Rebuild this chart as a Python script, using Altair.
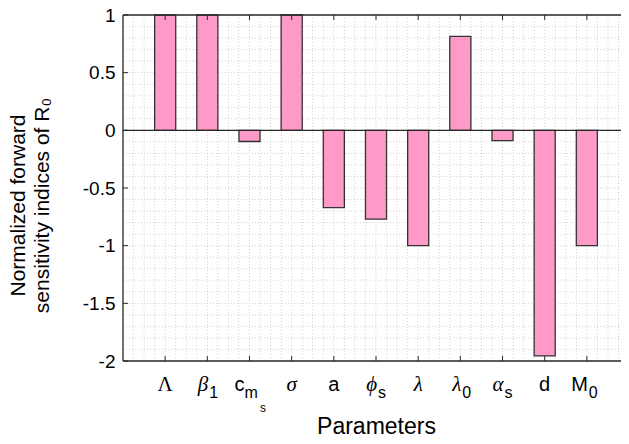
import altair as alt
import pandas as pd
import numpy as np
import unicodedata

# ---- data ----
label_main = ["Λ", "β", "c", "σ", "a", "ϕ", "λ", "λ", "α", "d", "M"]
label_sub = ["", "1", "m", "", "", "s", "", "0", "s", "", "0"]
label_subsub = ["", "", "s", "", "", "", "", "", "", "", ""]
sensitivity = [1.0, 1.0, -0.097, 1.0, -0.67, -0.77, -1.0, 0.814, -0.09, -1.956, -1.0]
y_tick_values = [-2, -1.5, -1, -0.5, 0, 0.5, 1]
x_tick_positions = list(range(1, len(label_main) + 1))

W, H = 498, 346
X_MAX = 11.81          # right part of the axes box falls outside the picture
FRAME = "#262626"
SANS = "Liberation Sans"
SERIF = "Liberation Serif"


def style_of(ch):
    name = unicodedata.name(ch, "")
    if "GREEK" in name:
        return "greek_upper" if "CAPITAL" in name else "greek_lower"
    return "latin"


df = pd.DataFrame({
    "pos": x_tick_positions,
    "main": label_main,
    "sub": label_sub,
    "subsub": label_subsub,
    "value": sensitivity,
})
df["style"] = [style_of(c) for c in label_main]
df["has_sub"] = [s != "" for s in label_sub]
df["has_subsub"] = [s != "" for s in label_subsub]

xscale = alt.Scale(domain=[0, X_MAX], nice=False, zero=False)
yscale = alt.Scale(domain=[-2, 1], nice=False, zero=False)

base = alt.Chart(df)

bars = base.transform_calculate(
    left="datum.pos - 0.25", right="datum.pos + 0.25"
).mark_bar(fill="#FF99C8", stroke="#333333", strokeWidth=1.3).encode(
    x=alt.X("left:Q", scale=xscale,
            axis=alt.Axis(labels=False, ticks=False, domain=False, grid=False,
                          title="Parameters", titleFont=SANS, titleFontSize=23,
                          titleFontWeight="normal", titleColor="#000",
                          titleBaseline="alphabetic", titleY=72,
                          titleX=(6 * W / X_MAX), titleAnchor="start", titleAlign="center")),
    x2="right:Q",
    y=alt.Y("value:Q", scale=yscale,
            axis=alt.Axis(values=y_tick_values, labelExpr="'' + datum.value",
                          ticks=False, domain=False, grid=False,
                          labelFont=SANS, labelFontSize=19, labelColor="#000",
                          labelPadding=8,
                          title=["Normalized forward", "sensitivity indices of R₀"],
                          titleFont=SANS, titleFontSize=21, titleFontWeight="normal",
                          titleColor="#000", titleLineHeight=24,
                          titleX=-95, titleY=190, titleAlign="center",
                          titleAngle=270, titleBaseline="bottom")),
    y2=alt.datum(0),
)

# minor dotted grid
xg = pd.DataFrame({"g": np.arange(0.25, X_MAX, 0.25)})
yg = pd.DataFrame({"g": np.round(np.arange(-1.9, 1.0, 0.1), 2)})
grid_x = alt.Chart(xg).mark_rule(color="#d2d2d2", strokeDash=[1, 2], strokeWidth=1).encode(
    x=alt.X("g:Q", scale=xscale, axis=None), y=alt.value(0), y2=alt.value(H))
grid_y = alt.Chart(yg).mark_rule(color="#d2d2d2", strokeDash=[1, 2], strokeWidth=1).encode(
    y=alt.Y("g:Q", scale=yscale, axis=None), x=alt.value(0), x2=alt.value(W))

zero_line = alt.Chart(pd.DataFrame({"z": [0]})).mark_rule(color=FRAME, strokeWidth=1.3).encode(
    y=alt.Y("z:Q", scale=yscale, axis=None), x=alt.value(0), x2=alt.value(W))

# axes box (left, top, bottom; the right edge is outside the picture)
frame = alt.Chart(pd.DataFrame({"side": ["top", "bottom", "left"]}))
frame_top = frame.transform_filter("datum.side == 'top'").mark_rule(color=FRAME, strokeWidth=1.3).encode(
    y=alt.value(0), x=alt.value(0), x2=alt.value(W))
frame_bottom = frame.transform_filter("datum.side == 'bottom'").mark_rule(color=FRAME, strokeWidth=1.3).encode(
    y=alt.value(H), x=alt.value(0), x2=alt.value(W))
frame_left = frame.transform_filter("datum.side == 'left'").mark_rule(color=FRAME, strokeWidth=1.3).encode(
    x=alt.value(0), y=alt.value(0), y2=alt.value(H))

tk = pd.DataFrame({"t": x_tick_positions})
ytk = pd.DataFrame({"t": y_tick_values})
ticks_bottom = alt.Chart(tk).mark_rule(color=FRAME, strokeWidth=1).encode(
    x=alt.X("t:Q", scale=xscale, axis=None), y=alt.value(H), y2=alt.value(H - 5))
ticks_top = alt.Chart(tk).mark_rule(color=FRAME, strokeWidth=1).encode(
    x=alt.X("t:Q", scale=xscale, axis=None), y=alt.value(0), y2=alt.value(5))
ticks_left = alt.Chart(ytk).mark_rule(color=FRAME, strokeWidth=1).encode(
    y=alt.Y("t:Q", scale=yscale, axis=None), x=alt.value(0), x2=alt.value(5))

# tick labels as text (with subscripts)
label_layers = []
fonts = {
    "latin": dict(font=SANS, fontSize=20, fontStyle="normal"),
    "greek_upper": dict(font=SERIF, fontSize=21, fontStyle="normal"),
    "greek_lower": dict(font=SERIF, fontSize=21, fontStyle="italic"),
}
for st, fp in fonts.items():
    for hs in (False, True):
        for hss in (False, True):
            if not hs and hss:
                continue
            if hs:
                align, dx = "right", (-5 if hss else 1)
            else:
                align, dx = "center", 0
            expr = (f"datum.style == '{st}' && datum.has_sub == {str(hs).lower()}"
                    f" && datum.has_subsub == {str(hss).lower()}")
            label_layers.append(
                base.transform_filter(expr).mark_text(
                    align=align, baseline="alphabetic", dx=dx, color="#000", **fp
                ).encode(x=alt.X("pos:Q", scale=xscale, axis=None),
                         y=alt.value(H + 30), text="main:N"))

for hss in (False, True):
    expr = f"datum.has_sub == true && datum.has_subsub == {str(hss).lower()}"
    label_layers.append(
        base.transform_filter(expr).mark_text(
            align="left", baseline="alphabetic", dx=(-5 if hss else 2),
            color="#000", font=SANS, fontSize=16
        ).encode(x=alt.X("pos:Q", scale=xscale, axis=None),
                 y=alt.value(H + 37), text="sub:N"))

label_layers.append(
    base.transform_filter("datum.has_subsub == true").mark_text(
        align="left", baseline="alphabetic", dx=10.5,
        color="#000", font=SANS, fontSize=12
    ).encode(x=alt.X("pos:Q", scale=xscale, axis=None),
             y=alt.value(H + 51), text="subsub:N"))

chart = alt.layer(
    grid_x, grid_y, bars, zero_line,
    frame_top, frame_bottom, frame_left,
    ticks_bottom, ticks_top, ticks_left,
    *label_layers
).resolve_axis(x="independent", y="independent").properties(
    width=W, height=H,
    autosize=alt.AutoSizeParams(type="none"),
    padding={"left": 115, "top": 7, "right": 0, "bottom": 75},
    background="white",
).configure_view(strokeWidth=0)

chart.save("out.html", embed_options={"renderer": "svg", "actions": False})
